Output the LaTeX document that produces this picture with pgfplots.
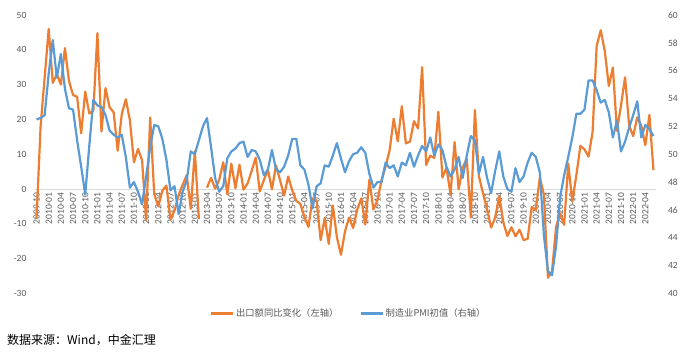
\documentclass[border=0pt]{standalone}
\usepackage{pgfplots}
\pgfplotsset{compat=1.18}
\usepackage{pgfplotstable}
\usepackage{fontspec}
\setmainfont{Carlito}
\newfontfamily\cjk{Noto Sans CJK SC}
\definecolor{myorange}{HTML}{ED7D31}
\definecolor{myblue}{HTML}{5B9BD5}
\definecolor{ticklab}{HTML}{595959}
\definecolor{gridc}{HTML}{D9D9D9}

\pgfplotstableread{
i exp pmi
0 -8.5 52.5
1 18.0 52.6
2 32.0 52.8
3 46.0 55.8
4 30.5 58.2
5 33.0 55.5
6 30.0 57.2
7 40.5 54.7
8 31.0 53.3
9 27.0 53.2
10 26.5 51.0
11 16.0 49.1
12 28.0 47.1
13 21.7 50.6
14 22.5 53.9
15 44.8 53.5
16 16.5 53.4
17 29.0 52.8
18 23.5 51.7
19 22.0 51.4
20 11.0 51.2
21 21.5 51.4
22 25.8 49.8
23 19.8 47.6
24 7.7 48.0
25 11.5 47.3
26 8.3 46.4
27 -9.0 48.4
28 20.5 50.5
29 -1.5 52.1
30 -5.0 52.0
31 -0.5 51.1
32 1.0 49.6
33 -8.8 47.4
34 -6.2 47.7
35 -1.8 45.7
36 1.2 47.3
37 4.0 48.1
38 -5.7 50.2
39 10.9 50.0
40 -8.6 51.0
41 nan 52.0
42 0.4 52.6
43 3.2 50.5
44 0.1 48.3
45 2.6 47.3
46 7.7 47.7
47 -1.5 49.7
48 7.3 50.2
49 0.2 50.4
50 7.0 50.8
51 -0.2 50.9
52 1.6 49.8
53 5.2 50.3
54 9.0 50.2
55 -0.7 49.6
56 2.5 48.5
57 5.6 48.9
58 -0.1 50.3
59 6.8 48.9
60 2.5 48.7
61 -1.9 49.1
62 3.6 49.9
63 -0.4 51.1
64 -3.4 51.1
65 -4.3 49.2
66 -8.0 48.9
67 -10.9 47.8
68 -2.7 46.1
69 -3.3 47.7
70 -14.7 47.9
71 -8.3 49.2
72 -15.8 49.1
73 -4.7 49.9
74 -13.8 50.8
75 -18.9 49.7
76 -12.2 48.7
77 -8.2 49.5
78 -11.2 50.0
79 -6.0 50.1
80 -2.7 50.5
81 -10.2 50.1
82 2.6 48.6
83 -5.9 47.6
84 -3.2 48.0
85 2.5 48.0
86 6.4 49.4
87 11.2 49.0
88 20.2 49.2
89 13.7 48.4
90 23.8 49.4
91 13.1 49.2
92 13.6 50.1
93 19.5 49.1
94 17.4 49.9
95 35.0 50.6
96 6.9 50.2
97 9.6 51.2
98 8.9 49.9
99 22.2 50.7
100 3.3 50.3
101 6.1 49.1
102 -1.5 48.4
103 13.5 48.9
104 -0.1 49.8
105 6.2 48.3
106 8.7 49.9
107 -8.2 51.3
108 22.7 51.0
109 3.6 48.6
110 -1.2 49.8
111 -5.8 48.3
112 -11.1 47.2
113 -8.2 48.8
114 -2.0 50.2
115 -9.5 48.4
116 -13.5 47.5
117 -11.0 47.3
118 -13.6 49.0
119 -11.7 48.0
120 -14.7 48.4
121 -14.3 49.4
122 -5.2 50.1
123 -6.1 49.8
124 3.3 48.7
125 -1.6 44.2
126 -25.5 41.6
127 -23.7 41.3
128 -10.9 43.4
129 -7.0 46.9
130 -10.3 48.5
131 7.3 49.8
132 -3.6 51.2
133 4.0 52.9
134 12.4 52.9
135 11.4 53.2
136 9.3 55.3
137 16.4 55.3
138 41.1 54.6
139 45.6 53.7
140 39.7 53.9
141 29.6 53.0
142 34.9 51.2
143 16.7 52.4
144 24.0 50.2
145 32.1 50.9
146 18.3 51.9
147 15.2 52.8
148 20.6 53.8
149 18.2 51.2
150 12.6 52.1
151 21.3 51.8
152 5.4 51.3
}\datatable

\begin{document}
\begin{tikzpicture}[x=1pt,y=1pt]
\path[use as bounding box] (0,0) rectangle (689,356);
\begin{axis}[
  at={(34.5pt,62.6pt)}, anchor=south west,
  scale only axis, width=621pt, height=278.4pt,
  xmin=-0.5, xmax=152.5, ymin=-30, ymax=50,
  axis x line*=middle, axis y line*=left,
  x axis line style={draw=gridc, line width=0.75pt, -},
  y axis line style={draw=none},
  major tick length=0pt,
  xtick={0,3,...,150},
  xticklabels={2009-10,2010-01,2010-04,2010-07,2010-10,2011-01,2011-04,2011-07,2011-10,2012-01,2012-04,2012-07,2012-10,2013-01,2013-04,2013-07,2013-10,2014-01,2014-04,2014-07,2014-10,2015-01,2015-04,2015-07,2015-10,2016-01,2016-04,2016-07,2016-10,2017-01,2017-04,2017-07,2017-10,2018-01,2018-04,2018-07,2018-10,2019-01,2019-04,2019-07,2019-10,2020-01,2020-04,2020-07,2020-10,2021-01,2021-04,2021-07,2021-10,2022-01,2022-04},
  xticklabel style={rotate=90, anchor=east, font=\fontsize{9.5}{10}\selectfont, text=ticklab},
  ytick={-30,-20,...,50},
  yticklabel style={font=\fontsize{9.5}{10}\selectfont, text=ticklab, anchor=east, xshift=-4.6pt},
  /pgf/number format/assume math mode=true,
  unbounded coords=jump,
  clip=false,
]
\addplot[myorange, line width=2.2pt, line join=round] table[x=i,y=exp]{\datatable};
\end{axis}
\begin{axis}[
  at={(34.5pt,62.6pt)}, anchor=south west,
  scale only axis, width=621pt, height=278.4pt,
  xmin=-0.5, xmax=152.5, ymin=40, ymax=60,
  axis x line=none, axis y line*=right,
  y axis line style={draw=none},
  major tick length=0pt,
  ytick={40,42,...,60},
  yticklabel style={font=\fontsize{9.5}{10}\selectfont, text=ticklab, anchor=west, xshift=9pt},
  /pgf/number format/assume math mode=true,
  clip=false,
  legend style={at={(0.506,-0.072)}, anchor=center, draw=none, fill=none,
    font=\cjk\fontsize{9.3}{11}\selectfont, text=ticklab,
    /tikz/every even column/.append style={column sep=19pt}},
  legend columns=2,
  legend image code/.code={\draw[#1, line width=2.2pt] (0pt,0pt) -- (22pt,0pt);},
]
\addlegendimage{myorange}
\addlegendentry{出口额同比变化（左轴）}
\addplot[myblue, line width=2.2pt, line join=round] table[x=i,y=pmi]{\datatable};
\addlegendentry{制造业PMI初值（右轴）}
\end{axis}
\node[anchor=west, inner sep=0pt, font=\cjk\fontsize{12}{14}\selectfont] at (7,16) {数据来源：Wind，中金汇理};
\end{tikzpicture}
\end{document}
